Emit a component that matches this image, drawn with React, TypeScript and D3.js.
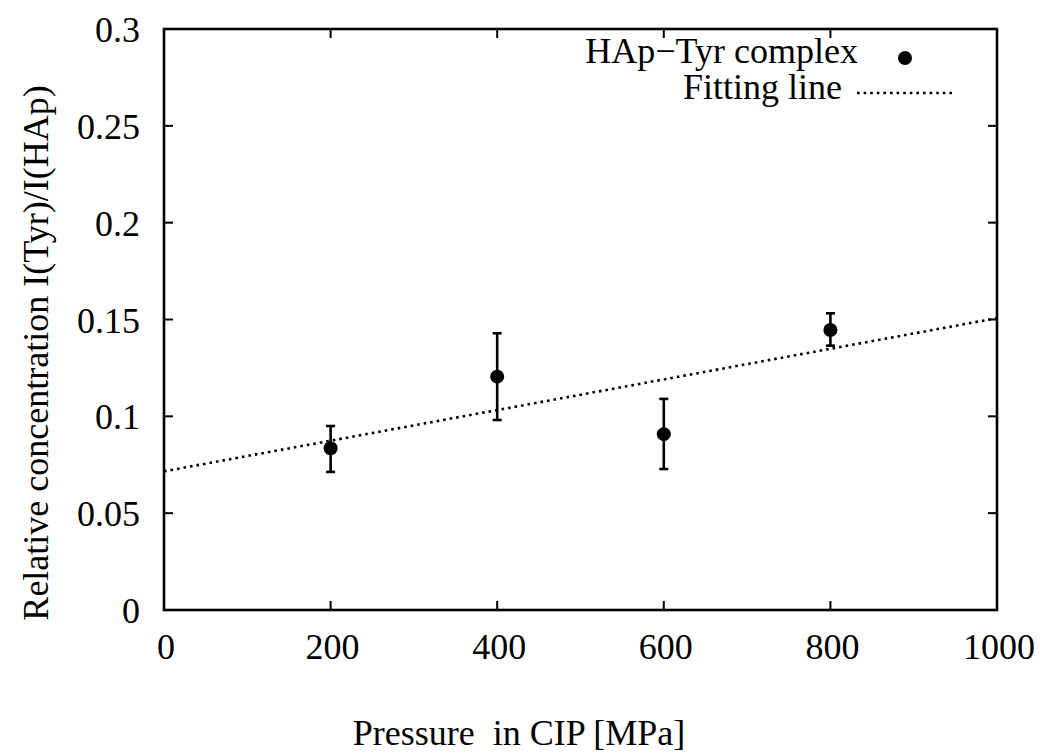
import React from "react";
import * as d3 from "d3";

const pressures = [200, 400, 600, 800];
const concentrations = [0.0835, 0.1205, 0.0908, 0.1446];
const errLow = [0.0713, 0.0981, 0.0728, 0.1365];
const errHigh = [0.095, 0.1429, 0.109, 0.1532];
const fitIntercept = 0.0716;
const fitSlope = 0.0000791;
const xTicks = [0, 200, 400, 600, 800, 1000];
const yTicks = [0, 0.05, 0.1, 0.15, 0.2, 0.25, 0.3];
const yTickLabels = ["0", "0.05", "0.1", "0.15", "0.2", "0.25", "0.3"];

const W = 1040, H = 755;
const L = 164, R = 997, T = 29, B = 610;
const FONT = "'Liberation Serif', 'Times New Roman', serif";

export default function App() {
  const x = d3.scaleLinear().domain([0, 1000]).range([L, R]);
  const y = d3.scaleLinear().domain([0, 0.3]).range([B, T]);
  const fit = d3.line<number>().x((p) => x(p)).y((p) => y(fitIntercept + fitSlope * p));
  const tl = 9;
  return (
    <svg width={W} height={H} style={{ position: "absolute", left: 0, top: 0, background: "#fff" }} fontFamily={FONT}>
      <rect width={W} height={H} fill="#fff" />
      {/* fit line */}
      <path d={fit([0, 1000]) || ""} fill="none" stroke="#000" strokeWidth={2.6} strokeDasharray="2.6,4" />
      {/* ticks */}
      {xTicks.map((t) => (
        <g key={"x" + t}>
          <line x1={x(t)} x2={x(t)} y1={B} y2={B - tl} stroke="#000" strokeWidth={2} />
          <line x1={x(t)} x2={x(t)} y1={T} y2={T + tl} stroke="#000" strokeWidth={2} />
          <text x={x(t) + 2} y={659} fontSize={36} textAnchor="middle" fill="#000">{t}</text>
        </g>
      ))}
      {yTicks.map((t, i) => (
        <g key={"y" + t}>
          <line x1={L} x2={L + tl} y1={y(t)} y2={y(t)} stroke="#000" strokeWidth={2} />
          <line x1={R} x2={R - tl} y1={y(t)} y2={y(t)} stroke="#000" strokeWidth={2} />
          <text x={140} y={y(t) + 13} fontSize={36} textAnchor="end" fill="#000">{yTickLabels[i]}</text>
        </g>
      ))}
      {/* error bars and points */}
      {pressures.map((p, i) => (
        <g key={"p" + p}>
          <line x1={x(p)} x2={x(p)} y1={y(errLow[i])} y2={y(errHigh[i])} stroke="#000" strokeWidth={2.6} />
          <line x1={x(p) - 4.5} x2={x(p) + 4.5} y1={y(errLow[i])} y2={y(errLow[i])} stroke="#000" strokeWidth={2.6} />
          <line x1={x(p) - 4.5} x2={x(p) + 4.5} y1={y(errHigh[i])} y2={y(errHigh[i])} stroke="#000" strokeWidth={2.6} />
          <circle cx={x(p)} cy={y(concentrations[i])} r={7} fill="#000" />
        </g>
      ))}
      {/* frame */}
      <rect x={L} y={T} width={R - L} height={B - T} fill="none" stroke="#000" strokeWidth={2.6} />
      {/* legend */}
      <text x={858} y={63} fontSize={36} textAnchor="end" fill="#000">HAp−Tyr complex</text>
      <circle cx={905} cy={58} r={7} fill="#000" />
      <text x={842} y={99} fontSize={36} textAnchor="end" fill="#000">Fitting line</text>
      <line x1={857} x2={953} y1={93} y2={93} stroke="#000" strokeWidth={2.6} strokeDasharray="2.6,4" />
      {/* axis titles */}
      <text x={519} y={745} fontSize={36} textAnchor="middle" fill="#000" style={{ whiteSpace: "pre" }}>Pressure  in CIP [MPa]</text>
      <text transform="translate(48,353) rotate(-90)" fontSize={36} textAnchor="middle" fill="#000">Relative concentration I(Tyr)/I(HAp)</text>
    </svg>
  );
}
